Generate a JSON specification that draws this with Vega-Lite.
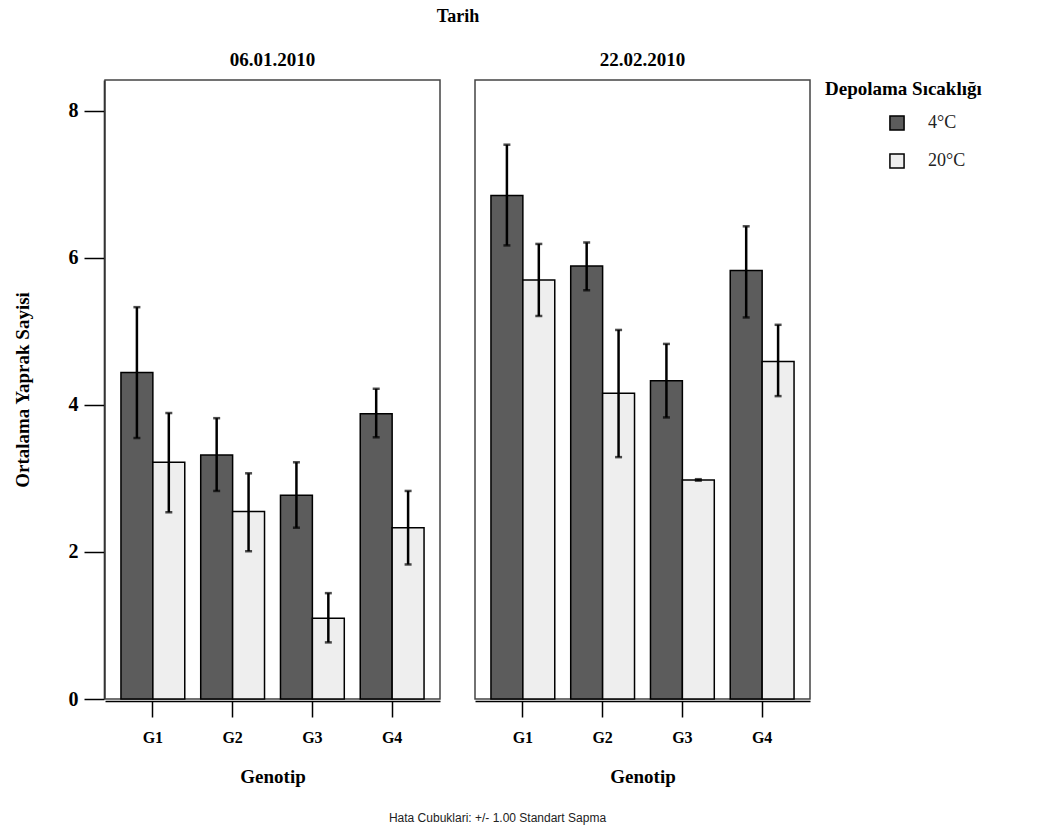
{
  "$schema": "https://vega.github.io/schema/vega-lite/v6.json",
  "padding": {"left": 13, "top": 8, "right": 5, "bottom": 5},
  "background": "white",
  "title": {
    "text": "Hata Cubuklari: +/- 1.00 Standart Sapma",
    "orient": "bottom",
    "anchor": "middle",
    "font": "Liberation Sans",
    "fontSize": 12,
    "fontWeight": "normal",
    "color": "#222",
    "offset": 27
  },
  "data": {
    "values": [
      {"Tarih": "06.01.2010", "Genotip": "G1", "Sicaklik": "4°C", "Ortalama": 4.44, "Alt": 3.55, "Ust": 5.33},
      {"Tarih": "06.01.2010", "Genotip": "G1", "Sicaklik": "20°C", "Ortalama": 3.22, "Alt": 2.54, "Ust": 3.89},
      {"Tarih": "06.01.2010", "Genotip": "G2", "Sicaklik": "4°C", "Ortalama": 3.32, "Alt": 2.83, "Ust": 3.82},
      {"Tarih": "06.01.2010", "Genotip": "G2", "Sicaklik": "20°C", "Ortalama": 2.55, "Alt": 2.01, "Ust": 3.07},
      {"Tarih": "06.01.2010", "Genotip": "G3", "Sicaklik": "4°C", "Ortalama": 2.77, "Alt": 2.33, "Ust": 3.22},
      {"Tarih": "06.01.2010", "Genotip": "G3", "Sicaklik": "20°C", "Ortalama": 1.10, "Alt": 0.77, "Ust": 1.44},
      {"Tarih": "06.01.2010", "Genotip": "G4", "Sicaklik": "4°C", "Ortalama": 3.88, "Alt": 3.56, "Ust": 4.22},
      {"Tarih": "06.01.2010", "Genotip": "G4", "Sicaklik": "20°C", "Ortalama": 2.33, "Alt": 1.83, "Ust": 2.83},
      {"Tarih": "22.02.2010", "Genotip": "G1", "Sicaklik": "4°C", "Ortalama": 6.85, "Alt": 6.17, "Ust": 7.54},
      {"Tarih": "22.02.2010", "Genotip": "G1", "Sicaklik": "20°C", "Ortalama": 5.70, "Alt": 5.21, "Ust": 6.19},
      {"Tarih": "22.02.2010", "Genotip": "G2", "Sicaklik": "4°C", "Ortalama": 5.89, "Alt": 5.56, "Ust": 6.21},
      {"Tarih": "22.02.2010", "Genotip": "G2", "Sicaklik": "20°C", "Ortalama": 4.16, "Alt": 3.29, "Ust": 5.02},
      {"Tarih": "22.02.2010", "Genotip": "G3", "Sicaklik": "4°C", "Ortalama": 4.33, "Alt": 3.83, "Ust": 4.83},
      {"Tarih": "22.02.2010", "Genotip": "G3", "Sicaklik": "20°C", "Ortalama": 2.98, "Alt": 2.97, "Ust": 2.99},
      {"Tarih": "22.02.2010", "Genotip": "G4", "Sicaklik": "4°C", "Ortalama": 5.83, "Alt": 5.19, "Ust": 6.43},
      {"Tarih": "22.02.2010", "Genotip": "G4", "Sicaklik": "20°C", "Ortalama": 4.59, "Alt": 4.12, "Ust": 5.09}
    ]
  },
  "facet": {
    "column": {
      "field": "Tarih",
      "type": "nominal",
      "title": "Tarih",
      "header": {
        "titleFont": "Liberation Serif",
        "titleFontSize": 18,
        "titleFontWeight": "bold",
        "titleColor": "black",
        "titlePadding": 15,
        "labelFont": "Liberation Serif",
        "labelFontSize": 19,
        "labelFontWeight": "bold",
        "labelColor": "black",
        "labelPadding": 9
      }
    }
  },
  "spacing": 33,
  "spec": {
    "width": 335,
    "height": 619,
    "encoding": {
      "x": {
        "field": "Genotip",
        "type": "nominal",
        "title": "Genotip",
        "scale": {"paddingInner": 0.2, "paddingOuter": 0.2},
        "axis": {
          "labelAngle": 0,
          "labelFont": "Liberation Serif",
          "labelFontSize": 16,
          "labelFontWeight": "bold",
          "labelColor": "black",
          "labelPadding": 12,
          "tickSize": 16,
          "tickColor": "black",
          "tickWidth": 1.5,
          "domainColor": "black",
          "domainWidth": 1.5,
          "titleFont": "Liberation Serif",
          "titleFontSize": 19,
          "titleFontWeight": "bold",
          "titleColor": "black",
          "titlePadding": 22
        }
      },
      "xOffset": {"field": "Sicaklik", "type": "nominal", "sort": ["4°C", "20°C"]}
    },
    "layer": [
      {
        "mark": {"type": "bar", "stroke": "black", "strokeWidth": 1.5},
        "encoding": {
          "y": {
            "field": "Ortalama",
            "type": "quantitative",
            "title": "Ortalama Yaprak Sayisi",
            "scale": {"domain": [0, 8.42], "nice": false, "zero": true},
            "axis": {
              "values": [0, 2, 4, 6, 8],
              "format": "d",
              "grid": false,
              "labelFont": "Liberation Serif",
              "labelFontSize": 20,
              "labelFontWeight": "bold",
              "labelColor": "black",
              "labelPadding": 6,
              "tickSize": 20,
              "tickColor": "black",
              "tickWidth": 1.5,
              "domainColor": "black",
              "domainWidth": 1.5,
              "titleFont": "Liberation Serif",
              "titleFontSize": 19,
              "titleFontWeight": "bold",
              "titleColor": "black",
              "titlePadding": 36
            }
          },
          "fill": {
            "field": "Sicaklik",
            "type": "nominal",
            "title": "Depolama Sıcaklığı",
            "scale": {"domain": ["4°C", "20°C"], "range": ["#5c5c5c", "#eeeeee"]},
            "legend": {
              "orient": "right",
              "offset": 14,
              "titleFont": "Liberation Serif",
              "titleFontSize": 19,
              "titleFontWeight": "bold",
              "titleColor": "black",
              "titlePadding": 15,
              "titleLimit": 400,
              "labelFont": "Liberation Serif",
              "labelFontSize": 18,
              "labelColor": "#222",
              "labelOffset": 22,
              "symbolType": "square",
              "symbolSize": 200,
              "symbolStrokeColor": "black",
              "symbolStrokeWidth": 1.5,
              "symbolOffset": 63,
              "rowPadding": 16
            }
          }
        }
      },
      {
        "mark": {"type": "rule", "color": "black", "strokeWidth": 2.5},
        "encoding": {
          "y": {"field": "Alt", "type": "quantitative"},
          "y2": {"field": "Ust"}
        }
      },
      {
        "mark": {"type": "tick", "color": "black", "thickness": 2.5, "size": 7},
        "encoding": {"y": {"field": "Ust", "type": "quantitative"}}
      },
      {
        "mark": {"type": "tick", "color": "black", "thickness": 2.5, "size": 7},
        "encoding": {"y": {"field": "Alt", "type": "quantitative"}}
      }
    ]
  },
  "config": {
    "view": {"stroke": "#444", "strokeWidth": 1.5}
  }
}
